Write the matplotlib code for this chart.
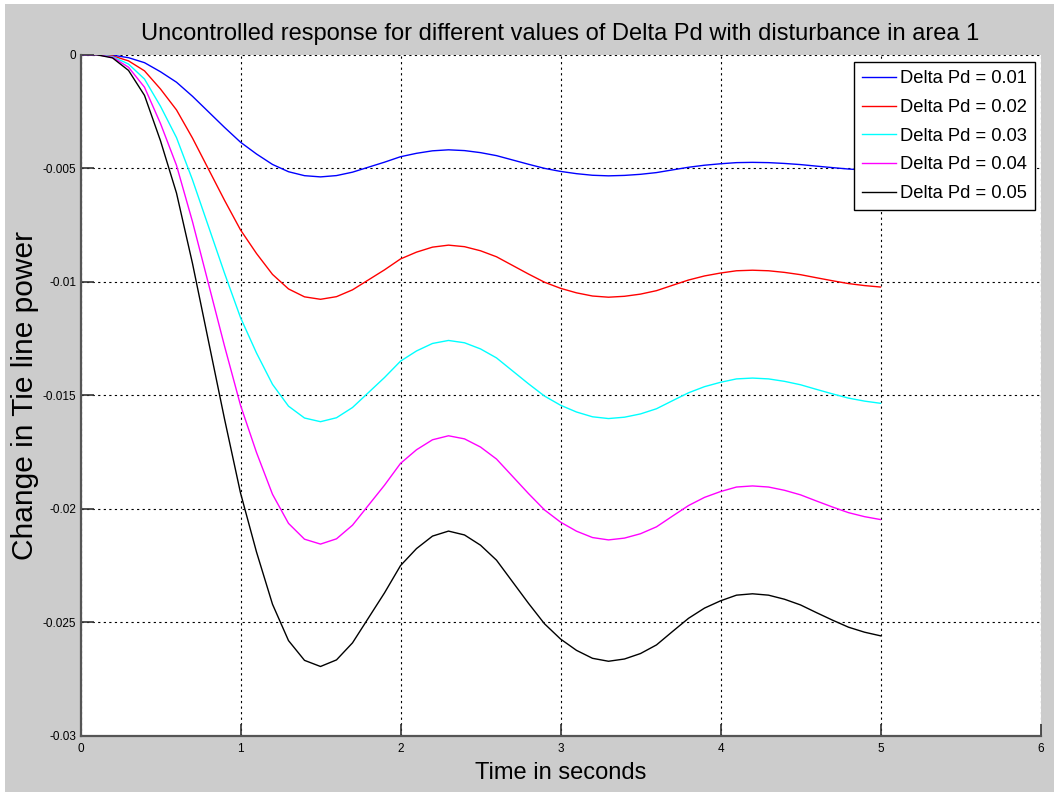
import matplotlib
matplotlib.use("Agg")
import matplotlib.pyplot as plt
from matplotlib.patches import Rectangle

t = [round(0.1 * i, 1) for i in range(51)]

pd_001 = [0.0, 0.0, -0.00003, -0.00014, -0.00036, -0.00076, -0.00122, -0.00184, -0.002524, -0.003208,
          -0.00386, -0.00438, -0.00484, -0.00516, -0.005334, -0.005388, -0.00533, -0.00518, -0.00496, -0.00474,
          -0.0045, -0.00435, -0.00424, -0.004196, -0.00423, -0.00432, -0.004452, -0.004642, -0.004832, -0.005012,
          -0.005146, -0.005246, -0.005316, -0.005342, -0.005322, -0.005274, -0.005198, -0.00508, -0.004964, -0.004874,
          -0.00481, -0.00476, -0.004748, -0.00476, -0.004796, -0.004846, -0.004914, -0.00498, -0.005042, -0.005086,
          -0.005118]
pd_002 = [0.0, -0.000004, -0.00006, -0.00028, -0.00072, -0.00152, -0.00244, -0.00368, -0.005048, -0.006416,
          -0.00772, -0.00876, -0.00968, -0.01032, -0.010668, -0.010776, -0.01066, -0.01036, -0.00992, -0.00948,
          -0.009, -0.0087, -0.00848, -0.008392, -0.00846, -0.00864, -0.008904, -0.009284, -0.009664, -0.010024,
          -0.010292, -0.010492, -0.010632, -0.010684, -0.010644, -0.010548, -0.010396, -0.01016, -0.009928, -0.009748,
          -0.00962, -0.00952, -0.009496, -0.00952, -0.009592, -0.009692, -0.009828, -0.00996, -0.010084, -0.010172,
          -0.010236]
pd_003 = [0.0, -0.000006, -0.00009, -0.00042, -0.00108, -0.00228, -0.00366, -0.00552, -0.007572, -0.009624,
          -0.01158, -0.01314, -0.01452, -0.01548, -0.016002, -0.016164, -0.01599, -0.01554, -0.01488, -0.01422,
          -0.0135, -0.01305, -0.01272, -0.012588, -0.01269, -0.01296, -0.013356, -0.013926, -0.014496, -0.015036,
          -0.015438, -0.015738, -0.015948, -0.016026, -0.015966, -0.015822, -0.015594, -0.01524, -0.014892, -0.014622,
          -0.01443, -0.01428, -0.014244, -0.01428, -0.014388, -0.014538, -0.014742, -0.01494, -0.015126, -0.015258,
          -0.015354]
pd_004 = [0.0, -0.000008, -0.00012, -0.00056, -0.00144, -0.00304, -0.00488, -0.00736, -0.010096, -0.012832,
          -0.01544, -0.01752, -0.01936, -0.02064, -0.021336, -0.021552, -0.02132, -0.02072, -0.01984, -0.01896,
          -0.018, -0.0174, -0.01696, -0.016784, -0.01692, -0.01728, -0.017808, -0.018568, -0.019328, -0.020048,
          -0.020584, -0.020984, -0.021264, -0.021368, -0.021288, -0.021096, -0.020792, -0.02032, -0.019856, -0.019496,
          -0.01924, -0.01904, -0.018992, -0.01904, -0.019184, -0.019384, -0.019656, -0.01992, -0.020168, -0.020344,
          -0.020472]
pd_005 = [0.0, -0.00001, -0.00015, -0.0007, -0.0018, -0.0038, -0.0061, -0.0092, -0.01262, -0.01604,
          -0.0193, -0.0219, -0.0242, -0.0258, -0.02667, -0.02694, -0.02665, -0.0259, -0.0248, -0.0237,
          -0.0225, -0.02175, -0.0212, -0.02098, -0.02115, -0.0216, -0.02226, -0.02321, -0.02416, -0.02506,
          -0.02573, -0.02623, -0.02658, -0.02671, -0.02661, -0.02637, -0.02599, -0.0254, -0.02482, -0.02437,
          -0.02405, -0.0238, -0.02374, -0.0238, -0.02398, -0.02423, -0.02457, -0.0249, -0.02521, -0.02543,
          -0.02559]

labels = ["Delta Pd = 0.01", "Delta Pd = 0.02", "Delta Pd = 0.03", "Delta Pd = 0.04", "Delta Pd = 0.05"]
colors = ["#0000ff", "#ff0000", "#00ffff", "#ff00ff", "#000000"]
series = [pd_001, pd_002, pd_003, pd_004, pd_005]

xticks = [0, 1, 2, 3, 4, 5, 6]
xticklabels = ["0", "1", "2", "3", "4", "5", "6"]
yticks = [0, -0.005, -0.01, -0.015, -0.02, -0.025, -0.03]
yticklabels = ["0", "-0.005", "-0.01", "-0.015", "-0.02", "-0.025", "-0.03"]

plt.rcParams['font.family'] = ['Liberation Sans', 'DejaVu Sans']

W, H = 1054, 792
fig = plt.figure(figsize=(W / 100, H / 100), dpi=100, facecolor='white')
fig.patches.append(Rectangle((5 / W, 0), 1 - 5 / W, 1 - 4 / H, transform=fig.transFigure,
                             facecolor='#cccccc', edgecolor='none', zorder=-10))

ax = fig.add_axes([80.5 / W, 1 - 736 / H, (1040.5 - 80.5) / W, (736 - 54.5) / H])
ax.set_facecolor('white')

for ys, c, lab in zip(series, colors, labels):
    ax.plot(t, ys, color=c, lw=1.0, label=lab)

ax.set_xlim(0, 6)
ax.set_ylim(-0.03, 0)
ax.set_xticks(xticks)
ax.set_xticklabels(xticklabels)
ax.set_yticks(yticks)
ax.set_yticklabels(yticklabels)
ax.tick_params(direction='in', length=9, width=1.2, color='#333333', labelsize=8.5)
ax.tick_params(axis='x', pad=5)
ax.tick_params(axis='y', pad=3)
ax.grid(True, color='black', linestyle=(0, (2, 3)), lw=0.8)

for s in ['top', 'right']:
    ax.spines[s].set_visible(False)
for s in ['left', 'bottom']:
    ax.spines[s].set_color('#555555')
    ax.spines[s].set_linewidth(1.6)

ax.set_title("Uncontrolled response for different values of Delta Pd with disturbance in area 1",
             fontsize=17, pad=10.5)
ax.set_xlabel("Time in seconds", fontsize=17, labelpad=5)
ax.set_ylabel("Change in Tie line power", fontsize=21.5, labelpad=3)

leg = ax.legend(loc='upper right', bbox_to_anchor=(1035 / W, 1 - 62 / H), bbox_transform=fig.transFigure,
                fontsize=13.2, frameon=True, fancybox=False, framealpha=1, edgecolor='black',
                borderpad=0.45, labelspacing=0.64, handlelength=1.85, handletextpad=0.22, borderaxespad=0)
leg.get_frame().set_linewidth(1.0)

fig.savefig("out.png", dpi=100, facecolor=fig.get_facecolor())
